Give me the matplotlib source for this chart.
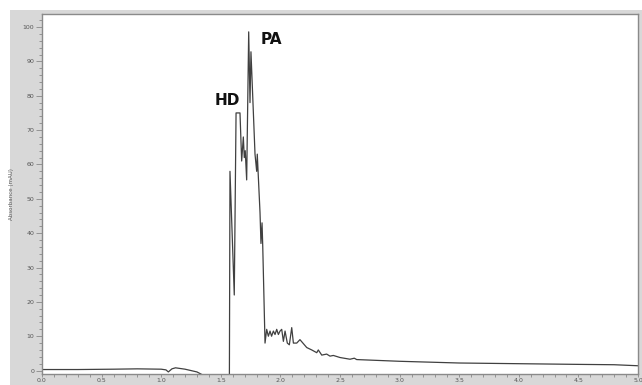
import matplotlib.pyplot as plt
from matplotlib.patches import Rectangle
from matplotlib.ticker import MultipleLocator

# chromatogram trace
time_min = [0.0, 0.3, 0.6, 0.8, 1.0, 1.04, 1.06, 1.09, 1.12, 1.2, 1.3, 1.36, 1.4, 1.572,
            1.577, 1.613, 1.628, 1.661, 1.675, 1.689, 1.697, 1.705, 1.717, 1.734,
            1.745, 1.753, 1.787, 1.801, 1.806, 1.829, 1.837, 1.846, 1.852, 1.871,
            1.885, 1.899, 1.913, 1.926, 1.941, 1.955, 1.969, 1.983, 1.997, 2.011,
            2.025, 2.039, 2.058, 2.075, 2.095, 2.109, 2.137, 2.164, 2.221, 2.263,
            2.305, 2.318, 2.347, 2.388, 2.416, 2.444, 2.5, 2.584, 2.62, 2.64,
            3.0, 3.5, 4.0, 4.5, 4.8, 5.0]
absorbance = [0.3, 0.3, 0.4, 0.5, 0.4, 0.2, -0.4, 0.5, 0.8, 0.4, -0.4, -1.5, -3.0, -3.0,
              58.0, 22.0, 75.0, 75.0, 61.0, 68.0, 62.0, 64.0, 55.5, 98.6,
              78.0, 92.8, 63.0, 58.0, 63.0, 46.0, 37.0, 43.0, 36.0, 8.0,
              12.0, 10.0, 11.5, 10.0, 11.5, 10.5, 12.0, 10.5, 11.5, 12.0,
              8.5, 11.5, 8.0, 7.5, 12.5, 8.0, 8.0, 9.0, 6.7, 6.0,
              5.2, 6.0, 4.5, 4.8, 4.2, 4.4, 3.8, 3.3, 3.6, 3.2,
              2.7, 2.2, 2.0, 1.8, 1.7, 1.4]

peak_names = ['HD', 'PA']
peak_x = [1.552, 1.925]
peak_y = [78.5, 96.5]

fig = plt.figure(figsize=(6.42, 3.85), dpi=100)
fig.patch.set_facecolor('white')
fig.patches.append(Rectangle((10 / 642, 0), 1, 1 - 10 / 385, transform=fig.transFigure,
                             facecolor='#d8d8d8', edgecolor='none', zorder=-5))

ax = fig.add_axes([42 / 642, 11 / 385, 596 / 642, 360 / 385])
ax.set_facecolor('white')
ax.plot(time_min, absorbance, color='#404040', lw=0.9)

for name, x, y in zip(peak_names, peak_x, peak_y):
    ax.text(x, y, name, ha='center', va='center', fontsize=11, fontweight='bold',
            family=['DejaVu Sans'], color='#111111')

ax.set_xlim(0, 5)
ax.set_ylim(-1.0, 103.8)
ax.xaxis.set_major_locator(MultipleLocator(0.5))
ax.xaxis.set_minor_locator(MultipleLocator(0.1))
ax.yaxis.set_major_locator(MultipleLocator(10))
ax.yaxis.set_minor_locator(MultipleLocator(2))
ax.xaxis.set_major_formatter(plt.FuncFormatter(lambda v, p: '%.1f' % v))

ax.tick_params(which='both', direction='out', colors='#888888', labelcolor='#555555',
               labelsize=4.5, width=0.6)
ax.tick_params(axis='y', which='major', length=4, pad=1.5)
ax.tick_params(axis='y', which='minor', length=2.5)
ax.tick_params(axis='x', which='major', length=2.5, pad=0.5)
ax.tick_params(axis='x', which='minor', length=2)
for s in ax.spines.values():
    s.set_color('#8a8a8a')
    s.set_linewidth(1.0)

ax.set_ylabel('Absorbance (mAU)', fontsize=4, color='#555555', labelpad=6)

fig.savefig('out.png', dpi=100)
